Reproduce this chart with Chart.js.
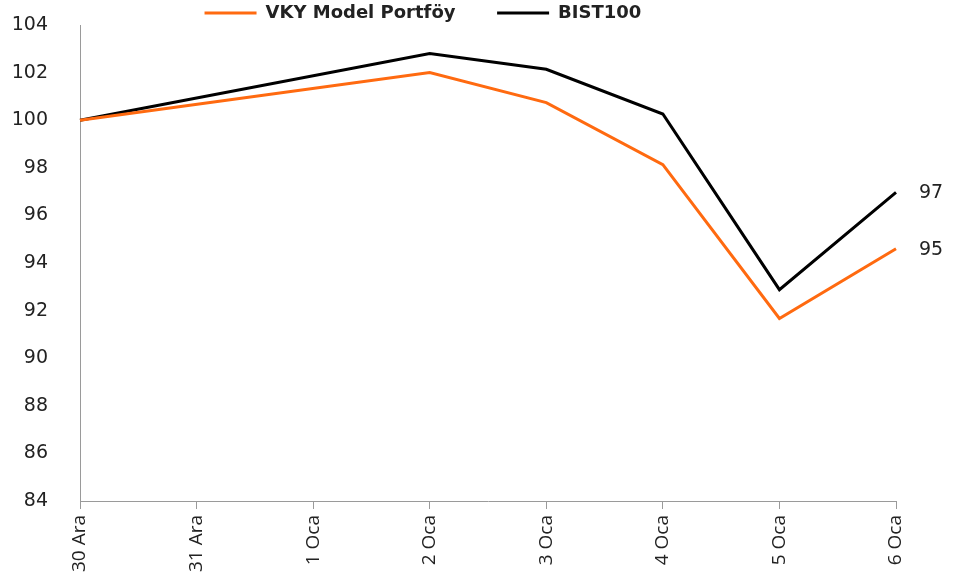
<!DOCTYPE html>
<html lang="tr">
<head>
<meta charset="UTF-8">
<title>VKY Model Portföy vs BIST100</title>
<style>
    body {
        margin: 0;
        padding: 0;
        background: #ffffff;
    }
    .chart-container {
        position: relative;
        width: 969px;
        height: 581px;
    }
</style>
<script src="https://cdn.jsdelivr.net/npm/chart.js"></script>
</head>
<body>
<div class="chart-container">
    <canvas id="perfChart"></canvas>
</div>
<script>
// gün etiketleri (31 Ara ve 1 Oca tatil, veri yok)
const days = ['30 Ara', '31 Ara', '1 Oca', '2 Oca', '3 Oca', '4 Oca', '5 Oca', '6 Oca'];
const vkyModel = [100, null, null, 102.0, 100.74, 98.13, 91.67, 94.6];
const bist100 = [100, null, null, 102.8, 102.14, 100.26, 92.88, 96.97];
const yTicks = [84, 86, 88, 90, 92, 94, 96, 98, 100, 102, 104];

// son değeri çizginin sağına yaz
const endLabels = {
    id: 'endLabels',
    afterDatasetsDraw(chart) {
        const ctx = chart.ctx;
        ctx.save();
        ctx.font = '19px "DejaVu Sans"';
        ctx.fillStyle = '#222';
        ctx.textBaseline = 'middle';
        chart.data.datasets.forEach((ds, i) => {
            const meta = chart.getDatasetMeta(i);
            const last = meta.data[meta.data.length - 1];
            const val = ds.data[ds.data.length - 1];
            ctx.fillText(Math.round(val), last.x + 23, last.y + 1);
        });
        ctx.restore();
    }
};

// legend kutusunu biraz daralt, grafik yukarı çıksın
const tightLegend = {
    id: 'tightLegend',
    beforeLayout(chart) {
        const lg = chart.legend;
        if (lg && !lg._tight) {
            const origFit = lg.fit;
            lg.fit = function() {
                origFit.call(this);
                this.height = Math.max(0, this.height - 7);
            };
            lg._tight = true;
        }
    }
};

const ctx = document.getElementById('perfChart').getContext('2d');
new Chart(ctx, {
    type: 'line',
    data: {
        labels: days,
        datasets: [
            {
                label: 'VKY Model Portföy',
                data: vkyModel,
                borderColor: '#ff6a10',
                backgroundColor: '#ff6a10',
                borderWidth: 3,
                pointRadius: 0,
                spanGaps: true,
                tension: 0
            },
            {
                label: 'BIST100',
                data: bist100,
                borderColor: '#000000',
                backgroundColor: '#000000',
                borderWidth: 3,
                pointRadius: 0,
                spanGaps: true,
                tension: 0
            }
        ]
    },
    options: {
        responsive: true,
        maintainAspectRatio: false,
        animation: false,
        layout: {
            padding: { left: 0, right: 73, top: 0, bottom: 0 }
        },
        scales: {
            x: {
                offset: false,
                grid: {
                    drawOnChartArea: false,
                    drawTicks: true,
                    tickLength: 8,
                    color: '#9a9a9a'
                },
                border: { color: '#9a9a9a', width: 1 },
                ticks: {
                    autoSkip: false,
                    minRotation: 90,
                    maxRotation: 90,
                    padding: 6,
                    color: '#222',
                    font: { family: '"Open Sans"', size: 19 }
                },
                afterFit(scale) { scale.height = 80; }
            },
            y: {
                min: 84,
                max: 104,
                afterBuildTicks(scale) {
                    scale.ticks = yTicks.map(v => ({ value: v }));
                },
                grid: { display: false },
                border: { display: true, color: '#9a9a9a', width: 1 },
                ticks: {
                    padding: 24,
                    color: '#222',
                    font: { family: '"DejaVu Sans"', size: 19 }
                },
                afterFit(scale) {
                    scale.width = 80;
                    scale.paddingTop = 0;
                    scale.paddingBottom = 0;
                }
            }
        },
        plugins: {
            legend: {
                position: 'top',
                labels: {
                    usePointStyle: true,
                    pointStyle: 'line',
                    pointStyleWidth: 52,
                    padding: 4,
                    color: '#222',
                    font: { family: '"DejaVu Sans"', size: 18, weight: 'bold' },
                    generateLabels(chart) {
                        const items = Chart.defaults.plugins.legend.labels.generateLabels(chart);
                        // Excel'deki boşluklar için
                        items[0].text = items[0].text + '      ';
                        items[1].text = items[1].text + '        ';
                        return items;
                    }
                }
            },
            tooltip: { enabled: false }
        }
    },
    plugins: [endLabels, tightLegend]
});
</script>
</body>
</html>
